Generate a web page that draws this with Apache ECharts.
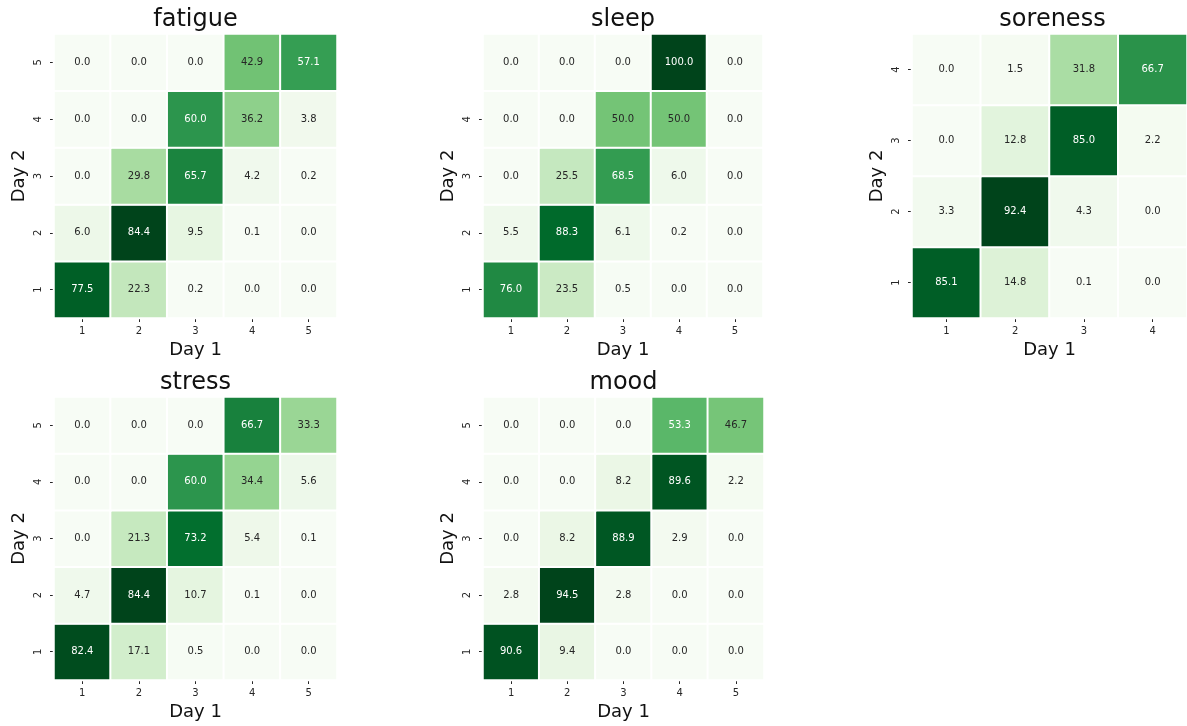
<!DOCTYPE html>
<html>
<head>
<meta charset="utf-8">
<script src="https://cdn.jsdelivr.net/npm/echarts@6/dist/echarts.min.js"></script>
<style>
  html, body { margin: 0; padding: 0; background: #ffffff; }
  #chart { width: 1187px; height: 726px; }
</style>
</head>
<body>
<div id="chart"></div>
<script>
// Transition percentages between consecutive days for each wellness item.
// Each matrix: rows are Day 2 ratings (first row = rating 1, drawn at the bottom),
// columns are Day 1 ratings.
const panelNames = ['fatigue', 'sleep', 'soreness', 'stress', 'mood'];

const day1Ticks5 = ['1', '2', '3', '4', '5'];
const day2Ticks5 = ['1', '2', '3', '4', '5'];
const day1Ticks4 = ['1', '2', '3', '4'];
const day2Ticks4 = ['1', '2', '3', '4'];
const sleepDay2Ticks = ['1', '2', '3', '4', ''];

const fatigue = [
  [77.5, 22.3, 0.2, 0.0, 0.0],
  [6.0, 84.4, 9.5, 0.1, 0.0],
  [0.0, 29.8, 65.7, 4.2, 0.2],
  [0.0, 0.0, 60.0, 36.2, 3.8],
  [0.0, 0.0, 0.0, 42.9, 57.1]
];
const sleep = [
  [76.0, 23.5, 0.5, 0.0, 0.0],
  [5.5, 88.3, 6.1, 0.2, 0.0],
  [0.0, 25.5, 68.5, 6.0, 0.0],
  [0.0, 0.0, 50.0, 50.0, 0.0],
  [0.0, 0.0, 0.0, 100.0, 0.0]
];
const soreness = [
  [85.1, 14.8, 0.1, 0.0],
  [3.3, 92.4, 4.3, 0.0],
  [0.0, 12.8, 85.0, 2.2],
  [0.0, 1.5, 31.8, 66.7]
];
const stress = [
  [82.4, 17.1, 0.5, 0.0, 0.0],
  [4.7, 84.4, 10.7, 0.1, 0.0],
  [0.0, 21.3, 73.2, 5.4, 0.1],
  [0.0, 0.0, 60.0, 34.4, 5.6],
  [0.0, 0.0, 0.0, 66.7, 33.3]
];
const mood = [
  [90.6, 9.4, 0.0, 0.0, 0.0],
  [2.8, 94.5, 2.8, 0.0, 0.0],
  [0.0, 8.2, 88.9, 2.9, 0.0],
  [0.0, 0.0, 8.2, 89.6, 2.2],
  [0.0, 0.0, 0.0, 53.3, 46.7]
];

const panelMatrices = [fatigue, sleep, soreness, stress, mood];
const panelXTicks = [day1Ticks5, day1Ticks5, day1Ticks4, day1Ticks5, day1Ticks5];
const panelYTicks = [day2Ticks5, sleepDay2Ticks, day2Ticks4, day2Ticks5, day2Ticks5];

// ---- layout & style ----
const FONT = 'DejaVu Sans';
const INK = '#262626';
const GREENS = ['#f7fcf5', '#e5f5e0', '#c7e9c0', '#a1d99b', '#74c476',
                '#41ab5d', '#238b45', '#006d2c', '#00441b'];

const boxes = [
  { left: 54,  top: 34,  width: 283, height: 284 },
  { left: 483, top: 34,  width: 280, height: 284 },
  { left: 912, top: 34,  width: 281, height: 284 },
  { left: 54,  top: 397, width: 283, height: 283 },
  { left: 483, top: 397, width: 281, height: 283 }
];

function hexToRgb(h) {
  return [parseInt(h.slice(1, 3), 16), parseInt(h.slice(3, 5), 16), parseInt(h.slice(5, 7), 16)];
}
// Colour of the Greens ramp at fraction t (same linear ramp the visualMap uses)
function rampColor(t) {
  t = Math.max(0, Math.min(1, t));
  const pos = t * (GREENS.length - 1);
  const i = Math.min(Math.floor(pos), GREENS.length - 2);
  const f = pos - i;
  const a = hexToRgb(GREENS[i]), b = hexToRgb(GREENS[i + 1]);
  return a.map((v, k) => v + (b[k] - v) * f);
}
function luminance(rgb) {
  const lin = rgb.map(v => {
    const c = v / 255;
    return c <= 0.03928 ? c / 12.92 : Math.pow((c + 0.055) / 1.055, 2.4);
  });
  return 0.2126 * lin[0] + 0.7152 * lin[1] + 0.0722 * lin[2];
}

const grid = [], xAxis = [], yAxis = [], series = [], visualMap = [], graphic = [];

panelMatrices.forEach((m, p) => {
  const b = boxes[p];
  const maxV = Math.max(...m.flat());
  grid.push({ left: b.left, top: b.top, width: b.width, height: b.height, containLabel: false });

  const tickStyle = { show: true, alignWithLabel: true, length: 4, lineStyle: { color: INK, width: 1 } };

  xAxis.push({
    type: 'category', gridIndex: p, data: panelXTicks[p],
    name: 'Day 1', nameLocation: 'middle', nameGap: 23,
    nameTextStyle: { fontFamily: FONT, fontSize: 18, color: '#111' },
    axisLine: { show: false }, splitLine: { show: false }, splitArea: { show: false },
    axisTick: tickStyle,
    axisLabel: { fontFamily: FONT, fontSize: 10, color: INK, margin: 8 }
  });
  const yTicks = panelYTicks[p];
  yAxis.push({
    type: 'category', gridIndex: p, data: yTicks,
    name: 'Day 2', nameLocation: 'middle', nameGap: 26, nameRotate: 90,
    nameTextStyle: { fontFamily: FONT, fontSize: 18, color: '#111' },
    axisLine: { show: false }, splitLine: { show: false }, splitArea: { show: false },
    axisTick: Object.assign({}, tickStyle, { interval: (idx, val) => yTicks[idx] !== '' }),
    axisLabel: { fontFamily: FONT, fontSize: 10, color: INK, margin: 11, rotate: 90 }
  });

  const data = [];
  m.forEach((row, r) => {
    row.forEach((v, c) => {
      const dark = luminance(rampColor(v / maxV)) <= 0.408;
      data.push({ value: [c, r, v], label: { color: dark ? '#ffffff' : INK } });
    });
  });

  series.push({
    type: 'heatmap', xAxisIndex: p, yAxisIndex: p, data: data,
    itemStyle: { borderColor: '#ffffff', borderWidth: 2 },
    label: {
      show: true, fontFamily: FONT, fontSize: 10,
      formatter: prm => prm.value[2].toFixed(1)
    },
    emphasis: { disabled: true }
  });

  visualMap.push({
    type: 'continuous', show: false, seriesIndex: p, dimension: 2,
    min: 0, max: maxV, inRange: { color: GREENS }
  });

  graphic.push({
    type: 'text', x: b.left + b.width / 2, y: b.top - 14,
    style: { text: panelNames[p], fontFamily: FONT, fontSize: 24, fill: '#111',
             align: 'center', verticalAlign: 'middle' }
  });
});

const chart = echarts.init(document.getElementById('chart'), null, { renderer: 'canvas' });
chart.setOption({
  backgroundColor: '#ffffff',
  animation: false,
  grid, xAxis, yAxis, series, visualMap, graphic
});
</script>
</body>
</html>
